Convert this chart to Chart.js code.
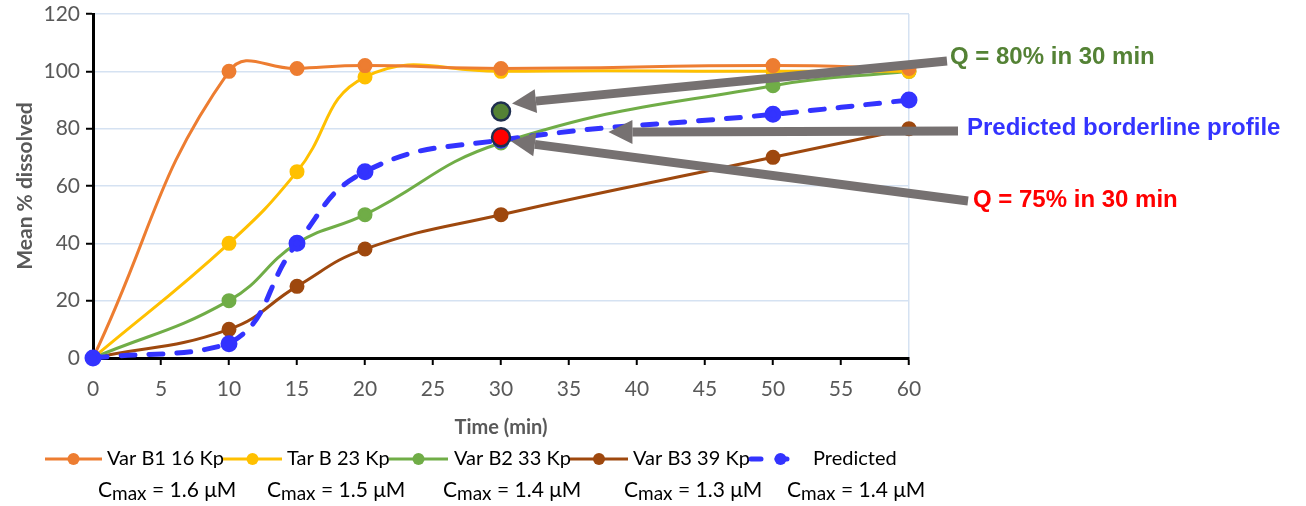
<!DOCTYPE html>
<html>
<head>
<meta charset="utf-8">
<script src="https://cdn.jsdelivr.net/npm/chart.js@4.4.1/dist/chart.umd.min.js"></script>
<style>
  html, body { margin: 0; padding: 0; background: #fff; }
  canvas { display: block; }
</style>
</head>
<body>
<canvas id="dissolution" width="1306" height="506"></canvas>
<script>
// time points (min)
const times = [0, 10, 15, 20, 30, 50, 60];

// mean % dissolved per formulation
const varB1 = [0, 100, 101, 102, 101, 102, 101];
const tarB = [0, 40, 65, 98, 100, 100, 100];
const varB2 = [0, 20, 40, 50, 75, 95, 100];
const varB3 = [0, 10, 25, 38, 50, 70, 80];
const predicted = [0, 5, 40, 65, 76, 85, 90];

// Q markers at 30 min
const q80Point = [{ x: 30, y: 86 }];
const q75Point = [{ x: 30, y: 77 }];

const seriesNames = ['Var B1 16 Kp', 'Tar B 23 Kp', 'Var B2 33 Kp', 'Var B3 39 Kp', 'Predicted'];
const cmaxLabels = ['1.6 \u03bcM', '1.5 \u03bcM', '1.4 \u03bcM', '1.3 \u03bcM', '1.4 \u03bcM'];
const annotationTexts = ['Q = 80% in 30 min', 'Predicted borderline profile', 'Q = 75% in 30 min'];

const colors = ['#ED7D31', '#FFC000', '#70AD47', '#9E480E', '#3333FF'];
const gridBlue = '#D5E2F2';
const axisGray = '#595959';

const toPoints = vals => vals.map((v, i) => ({ x: times[i], y: v }));

function series(label, vals, color, extra) {
    return Object.assign({
        label: label,
        data: toPoints(vals),
        borderColor: color,
        backgroundColor: color,
        pointBackgroundColor: color,
        pointBorderColor: color,
        pointRadius: 6,
        pointHoverRadius: 6,
        borderWidth: 3,
        tension: 0.45,
        clip: false,
        order: 2,
    }, extra || {});
}

function drawArrow(ctx, x1, y1, x2, y2) {
    const ang = Math.atan2(y2 - y1, x2 - x1);
    const headLen = 24, headW = 12;
    const bx = x2 - headLen * Math.cos(ang);
    const by = y2 - headLen * Math.sin(ang);
    ctx.save();
    ctx.strokeStyle = '#767171';
    ctx.fillStyle = '#767171';
    ctx.lineWidth = 9;
    ctx.beginPath();
    ctx.moveTo(x1, y1);
    ctx.lineTo(bx, by);
    ctx.stroke();
    ctx.beginPath();
    ctx.moveTo(x2, y2);
    ctx.lineTo(bx + headW * Math.sin(ang), by - headW * Math.cos(ang));
    ctx.lineTo(bx - headW * Math.sin(ang), by + headW * Math.cos(ang));
    ctx.closePath();
    ctx.fill();
    ctx.restore();
}

const annotations = {
    id: 'annotations',
    afterDatasetsDraw(chart) {
        const { ctx } = chart;
        const xs = chart.scales.x, ys = chart.scales.y;
        const px = xs.getPixelForValue(30);

        drawArrow(ctx, 947, 61, px + 11, ys.getPixelForValue(86) - 8);
        drawArrow(ctx, 958, 131, xs.getPixelForValue(37.9), 132);
        drawArrow(ctx, 968, 201, px + 10, ys.getPixelForValue(77) + 4);

        ctx.save();
        ctx.font = 'bold 24px "Liberation Sans", Arial, sans-serif';
        ctx.textBaseline = 'middle';
        ctx.fillStyle = '#548235';
        ctx.fillText(annotationTexts[0], 950, 57);
        ctx.fillStyle = '#3333FF';
        ctx.fillText(annotationTexts[1], 967, 128);
        ctx.fillStyle = '#FF0000';
        ctx.fillText(annotationTexts[2], 973, 200);
        ctx.restore();
    }
};

const legendRows = {
    id: 'legendRows',
    afterDraw(chart) {
        const { ctx } = chart;
        const lineStart = [45, 223, 389, 570, 748];
        const lineEnd = [102, 282, 448, 628, 797];
        const textStart = [107, 287, 454, 633, 813];
        const cmaxStart = [98, 267, 443, 624, 787];
        const rowY = 459, cmaxY = 490;

        ctx.save();
        seriesNames.forEach((name, i) => {
            ctx.strokeStyle = colors[i];
            ctx.fillStyle = colors[i];
            ctx.lineWidth = i === 4 ? 5 : 3;
            ctx.lineCap = i === 4 ? 'round' : 'butt';
            ctx.setLineDash(i === 4 ? [10, 16] : []);
            ctx.beginPath();
            ctx.moveTo(lineStart[i] + (i === 4 ? 3 : 0), rowY);
            ctx.lineTo(lineEnd[i], rowY);
            ctx.stroke();
            ctx.setLineDash([]);
            ctx.beginPath();
            ctx.arc((lineStart[i] + lineEnd[i]) / 2 + (i === 4 ? 8 : 0), rowY, 6, 0, Math.PI * 2);
            ctx.fill();

            ctx.fillStyle = '#000';
            ctx.textBaseline = 'middle';
            ctx.font = '20px Lato, sans-serif';
            ctx.fillText(name, textStart[i], rowY);

            let x = cmaxStart[i];
            ctx.textBaseline = 'alphabetic';
            ctx.font = '21px Lato, sans-serif';
            ctx.fillText('C', x, cmaxY + 7);
            x += ctx.measureText('C').width;
            ctx.font = '19px Lato, sans-serif';
            ctx.fillText('max', x, cmaxY + 10);
            x += ctx.measureText('max').width;
            ctx.font = '21px Lato, sans-serif';
            ctx.fillText(' = ' + cmaxLabels[i], x, cmaxY + 7);
        });
        ctx.restore();
    }
};

const ctx = document.getElementById('dissolution').getContext('2d');
new Chart(ctx, {
    type: 'line',
    data: {
        datasets: [
            {
                label: 'Q80', data: q80Point, showLine: false, order: 0, clip: false,
                pointRadius: 9, pointHoverRadius: 9, pointBackgroundColor: '#548235',
                pointBorderColor: '#1F2F4F', pointBorderWidth: 2.5,
            },
            {
                label: 'Q75', data: q75Point, showLine: false, order: 0, clip: false,
                pointRadius: 9, pointHoverRadius: 9, pointBackgroundColor: '#FF0000',
                pointBorderColor: '#1F2F4F', pointBorderWidth: 2.5,
            },
            series(seriesNames[0], varB1, colors[0]),
            series(seriesNames[1], tarB, colors[1]),
            series(seriesNames[2], varB2, colors[2]),
            series(seriesNames[3], varB3, colors[3]),
            series(seriesNames[4], predicted, colors[4], {
                borderWidth: 5, borderDash: [14, 14], borderCapStyle: 'round', order: 1,
            }),
        ],
    },
    options: {
        responsive: false,
        animation: false,
        devicePixelRatio: 1,
        layout: { padding: { left: 0, right: 397, top: 14, bottom: 60 } },
        plugins: {
            legend: { display: false },
            tooltip: { enabled: false },
        },
        scales: {
            x: {
                type: 'linear',
                min: 0,
                max: 60,
                afterFit: s => { s.height = 88; s.paddingLeft = 0; s.paddingRight = 0; },
                border: { color: '#000', width: 3 },
                grid: {
                    color: c => (c.tick && c.tick.value === 60 ? gridBlue : 'rgba(0,0,0,0)'),
                    lineWidth: 1.5,
                    tickColor: '#000',
                    tickWidth: 2,
                    tickLength: 7,
                },
                ticks: {
                    stepSize: 5,
                    autoSkip: false,
                    maxRotation: 0,
                    padding: 12,
                    color: axisGray,
                    font: { family: 'Lato', size: 21 },
                },
                title: {
                    display: true,
                    text: 'Time (min)',
                    color: axisGray,
                    font: { family: 'Lato', size: 20, weight: 'bold' },
                    padding: { top: 0, bottom: 6 },
                },
            },
            y: {
                min: 0,
                max: 120,
                afterFit: s => { s.width = 93; s.paddingTop = 0; s.paddingBottom = 0; },
                border: { color: '#000', width: 3 },
                grid: {
                    color: gridBlue,
                    lineWidth: 1.5,
                    tickColor: '#000',
                    tickWidth: 2,
                    tickLength: 7,
                },
                ticks: {
                    stepSize: 20,
                    padding: 6,
                    color: axisGray,
                    font: { family: 'Lato', size: 21 },
                },
                title: {
                    display: true,
                    text: 'Mean % dissolved',
                    color: axisGray,
                    font: { family: 'Lato', size: 21, weight: 'bold' },
                    padding: { top: 13, bottom: 0 },
                },
            },
        },
    },
    plugins: [annotations, legendRows],
});
</script>
</body>
</html>
